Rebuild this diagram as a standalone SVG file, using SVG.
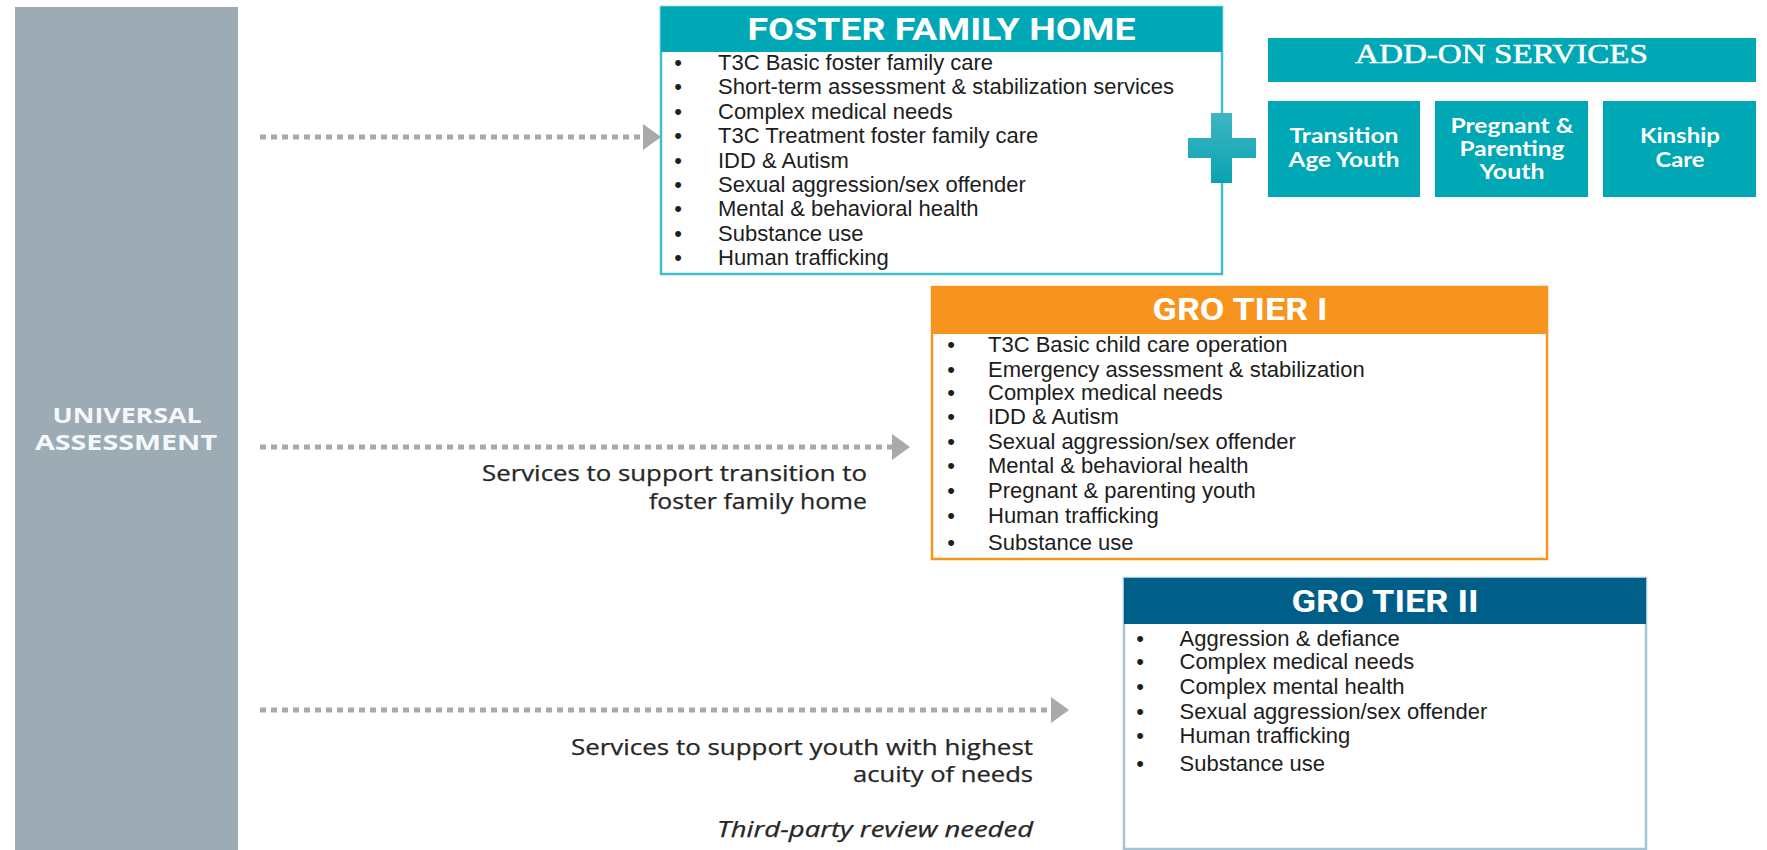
<svg xmlns="http://www.w3.org/2000/svg" width="1767" height="850" viewBox="0 0 1767 850">
<defs>
<style>
.list{font-family:"Liberation Sans",Arial,sans-serif;font-size:22px;fill:#1d1d1d}
.bul{font-family:"Liberation Sans",Arial,sans-serif;font-size:22px;fill:#1d1d1d;text-anchor:middle}
.hdr{font-family:Roboto,"Liberation Sans",sans-serif;font-weight:700;font-size:31px;fill:#fff;text-anchor:middle}
.note{font-family:"Open Sans","Liberation Sans",sans-serif;font-size:21px;fill:#262626;text-anchor:end;stroke:#262626;stroke-width:0.25}
.addon{font-family:Lato,"Liberation Sans",sans-serif;font-weight:700;font-size:20px;fill:#fff;text-anchor:middle}
.ua{font-family:"Open Sans","Liberation Sans",sans-serif;font-weight:700;font-size:22px;fill:#f5f8fa;text-anchor:middle}
.conn{stroke:#a9a9a9;stroke-width:5;stroke-dasharray:6 5;fill:none}
.teal{fill:#00a7b5}
</style>
<marker id="ah" markerUnits="userSpaceOnUse" markerWidth="18" markerHeight="26" refX="0" refY="13" orient="auto" viewBox="0 0 18 26"><path d="M0,0 L18,13 L0,26 Z" fill="#a9a9a9"/></marker>
<linearGradient id="plusg" x1="0" y1="0" x2="0" y2="1"><stop offset="0" stop-color="#3db6c3"/><stop offset="1" stop-color="#0aa2b0"/></linearGradient>
</defs>
<rect width="1767" height="850" fill="#fff"/>

<g id="universal-assessment">
<rect x="15" y="7" width="223" height="843" fill="#9dabb5"/>
<text class="ua" x="127" y="423" textLength="149" lengthAdjust="spacingAndGlyphs">UNIVERSAL</text>
<text class="ua" x="126" y="450" textLength="182" lengthAdjust="spacingAndGlyphs">ASSESSMENT</text>
</g>

<g id="connectors">
<line class="conn" x1="260" y1="137" x2="643" y2="137" marker-end="url(#ah)"/>
<line class="conn" x1="260" y1="447" x2="892" y2="447" marker-end="url(#ah)"/>
<line class="conn" x1="260" y1="710" x2="1051" y2="710" marker-end="url(#ah)"/>
<text class="note" x="867" y="481" textLength="385" lengthAdjust="spacingAndGlyphs">Services to support transition to</text>
<text class="note" x="867" y="509" textLength="218" lengthAdjust="spacingAndGlyphs">foster family home</text>
<text class="note" x="1033" y="755" textLength="462" lengthAdjust="spacingAndGlyphs">Services to support youth with highest</text>
<text class="note" x="1033" y="782" textLength="180" lengthAdjust="spacingAndGlyphs">acuity of needs</text>
<text class="note" x="1033" y="837" font-style="italic" textLength="316" lengthAdjust="spacingAndGlyphs">Third-party review needed</text>
</g>

<g id="foster-family-home">
<rect x="661" y="7" width="561" height="267" fill="#fff" stroke="#3dbfcc" stroke-width="2.5"/>
<rect x="661" y="7" width="561" height="45" class="teal"/>
<text class="hdr" x="941.5" y="40" textLength="388" lengthAdjust="spacingAndGlyphs">FOSTER FAMILY HOME</text>
<g class="bul">
<text x="678" y="70">•</text><text x="678" y="94.4">•</text><text x="678" y="118.8">•</text><text x="678" y="143.2">•</text><text x="678" y="167.6">•</text><text x="678" y="192">•</text><text x="678" y="216.4">•</text><text x="678" y="240.8">•</text><text x="678" y="265.2">•</text>
</g>
<g class="list">
<text x="718" y="70">T3C Basic foster family care</text>
<text x="718" y="94.4">Short-term assessment &amp; stabilization services</text>
<text x="718" y="118.8">Complex medical needs</text>
<text x="718" y="143.2">T3C Treatment foster family care</text>
<text x="718" y="167.6">IDD &amp; Autism</text>
<text x="718" y="192">Sexual aggression/sex offender</text>
<text x="718" y="216.4">Mental &amp; behavioral health</text>
<text x="718" y="240.8">Substance use</text>
<text x="718" y="265.2">Human trafficking</text>
</g>
</g>

<g id="plus">
<path d="M1211,113 H1232 V138 H1256 V158 H1232 V183 H1211 V158 H1188 V138 H1211 Z" fill="url(#plusg)"/>
</g>

<g id="add-on-services">
<rect x="1268" y="38" width="488" height="44" class="teal"/>
<text x="1501.5" y="63" font-family="'Liberation Serif','Times New Roman',serif" font-size="27" fill="#fff" stroke="#fff" stroke-width="0.5" text-anchor="middle" textLength="293" lengthAdjust="spacingAndGlyphs">ADD-ON SERVICES</text>
</g>

<g id="transition-age-youth">
<rect x="1268" y="101" width="152" height="96" class="teal"/>
<text class="addon" x="1344" y="143" textLength="109" lengthAdjust="spacingAndGlyphs">Transition</text>
<text class="addon" x="1344" y="167" textLength="111" lengthAdjust="spacingAndGlyphs">Age Youth</text>
</g>

<g id="pregnant-parenting-youth">
<rect x="1435" y="101" width="153" height="96" class="teal"/>
<text class="addon" x="1512" y="133" textLength="123" lengthAdjust="spacingAndGlyphs">Pregnant &amp;</text>
<text class="addon" x="1512" y="156" textLength="105" lengthAdjust="spacingAndGlyphs">Parenting</text>
<text class="addon" x="1512" y="179" textLength="65" lengthAdjust="spacingAndGlyphs">Youth</text>
</g>

<g id="kinship-care">
<rect x="1603" y="101" width="153" height="96" class="teal"/>
<text class="addon" x="1680" y="143" textLength="80" lengthAdjust="spacingAndGlyphs">Kinship</text>
<text class="addon" x="1680" y="167" textLength="49" lengthAdjust="spacingAndGlyphs">Care</text>
</g>

<g id="gro-tier-1">
<rect x="932" y="287" width="615" height="272" fill="#fff" stroke="#f7941d" stroke-width="2.5"/>
<rect x="932" y="287" width="615" height="47" fill="#f7941d"/>
<text class="hdr" x="1240" y="320" textLength="175" lengthAdjust="spacingAndGlyphs">GRO TIER I</text>
<g class="bul">
<text x="951" y="352">•</text><text x="951" y="377">•</text><text x="951" y="400">•</text><text x="951" y="424">•</text><text x="951" y="449">•</text><text x="951" y="473">•</text><text x="951" y="498">•</text><text x="951" y="523">•</text><text x="951" y="550">•</text>
</g>
<g class="list">
<text x="988" y="352">T3C Basic child care operation</text>
<text x="988" y="377">Emergency assessment &amp; stabilization</text>
<text x="988" y="400">Complex medical needs</text>
<text x="988" y="424">IDD &amp; Autism</text>
<text x="988" y="449">Sexual aggression/sex offender</text>
<text x="988" y="473">Mental &amp; behavioral health</text>
<text x="988" y="498">Pregnant &amp; parenting youth</text>
<text x="988" y="523">Human trafficking</text>
<text x="988" y="550">Substance use</text>
</g>
</g>

<g id="gro-tier-2">
<rect x="1124" y="578" width="522" height="271" fill="#fff" stroke="#a3c4d5" stroke-width="2.5"/>
<rect x="1124" y="578" width="522" height="46" fill="#005f88"/>
<text class="hdr" x="1385" y="612" textLength="187" lengthAdjust="spacingAndGlyphs">GRO TIER II</text>
<g class="bul">
<text x="1140" y="646">•</text><text x="1140" y="669">•</text><text x="1140" y="694">•</text><text x="1140" y="719">•</text><text x="1140" y="743">•</text><text x="1140" y="771">•</text>
</g>
<g class="list">
<text x="1179.5" y="646">Aggression &amp; defiance</text>
<text x="1179.5" y="669">Complex medical needs</text>
<text x="1179.5" y="694">Complex mental health</text>
<text x="1179.5" y="719">Sexual aggression/sex offender</text>
<text x="1179.5" y="743">Human trafficking</text>
<text x="1179.5" y="771">Substance use</text>
</g>
</g>
</svg>
